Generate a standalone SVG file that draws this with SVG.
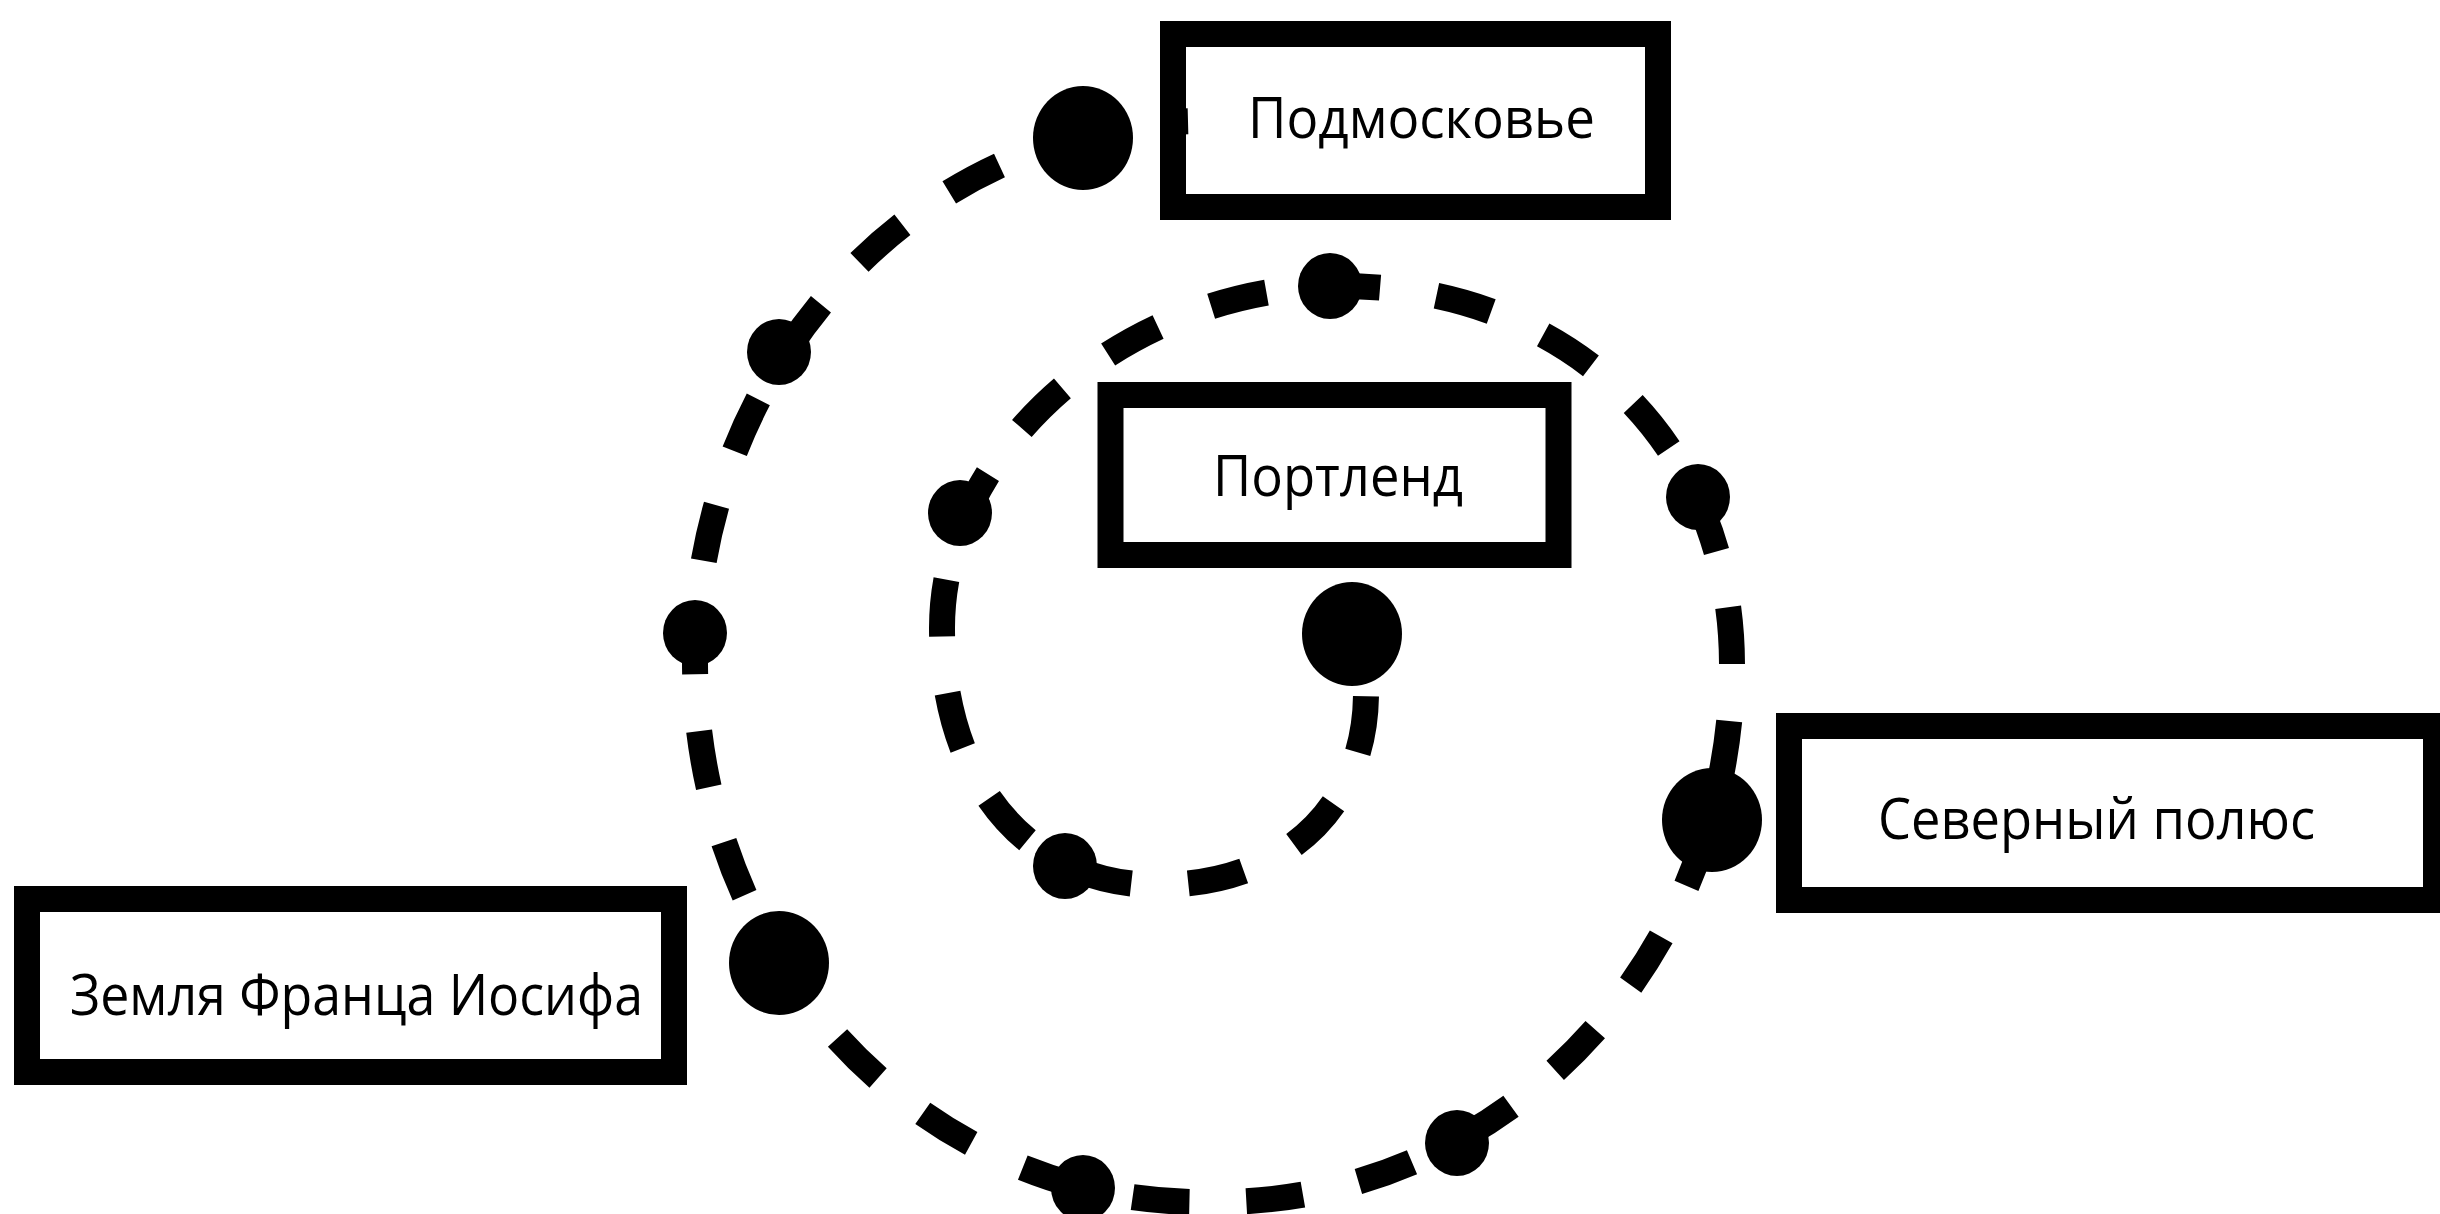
<svg xmlns="http://www.w3.org/2000/svg" width="2440" height="1214" viewBox="0 0 2440 1214">
<style>
.box{fill:#fff;stroke:#000;stroke-width:26}
.lbl{font-family:"Open Sans","Noto Sans","DejaVu Sans",sans-serif;font-size:57px;fill:#000}
.spiral{fill:none;stroke:#000;stroke-width:26;stroke-dasharray:57 57;stroke-dashoffset:33}
.dot{fill:#000}
</style>
<rect width="2440" height="1214" fill="#fff"/>
<g id="node-podmoskovye">
<rect class="box" x="1173" y="34" width="485" height="173"/>
<text class="lbl" x="1248" y="138" textLength="347" lengthAdjust="spacingAndGlyphs">Подмосковье</text>
</g>
<g id="node-portland">
<rect class="box" x="1110.5" y="395" width="448" height="160"/>
<text class="lbl" x="1213" y="496" textLength="250" lengthAdjust="spacingAndGlyphs">Портленд</text>
</g>
<g id="node-zemlya">
<rect class="box" x="27" y="899" width="647" height="173"/>
<text class="lbl" x="70" y="1015" textLength="573" lengthAdjust="spacingAndGlyphs">Земля Франца Иосифа</text>
</g>
<g id="node-severny">
<rect class="box" x="1789" y="726" width="647" height="174"/>
<text class="lbl" x="1878" y="839" textLength="437" lengthAdjust="spacingAndGlyphs">Северный полюс</text>
</g>
<g id="connectors">
<path class="spiral" d="M1188,121.3 A505,540 0 0 0 695,661 A505,540 0 0 0 1200,1202 L1218,1202 A514,537 0 0 0 1732,665 C1732,444 1569,286 1341,286 C1129,286 942,446 942,628 C942,782 1028,885 1158,885 C1283,885 1366,808 1366,693 A191,191 0 0 0 1357,634"/>
<ellipse class="dot" cx="1083" cy="138" rx="50" ry="52"/>
<ellipse class="dot" cx="779" cy="963" rx="50" ry="52"/>
<ellipse class="dot" cx="1712" cy="820" rx="50" ry="52"/>
<ellipse class="dot" cx="1352" cy="634" rx="50" ry="52"/>
<ellipse class="dot" cx="779" cy="352" rx="32" ry="33"/>
<ellipse class="dot" cx="695" cy="633" rx="32" ry="33"/>
<ellipse class="dot" cx="1083" cy="1188" rx="32" ry="33"/>
<ellipse class="dot" cx="1457" cy="1143" rx="32" ry="33"/>
<ellipse class="dot" cx="1698" cy="497" rx="32" ry="33"/>
<ellipse class="dot" cx="1330" cy="286" rx="32" ry="33"/>
<ellipse class="dot" cx="960" cy="513" rx="32" ry="33"/>
<ellipse class="dot" cx="1065" cy="866" rx="32" ry="33"/>
</g>
</svg>
